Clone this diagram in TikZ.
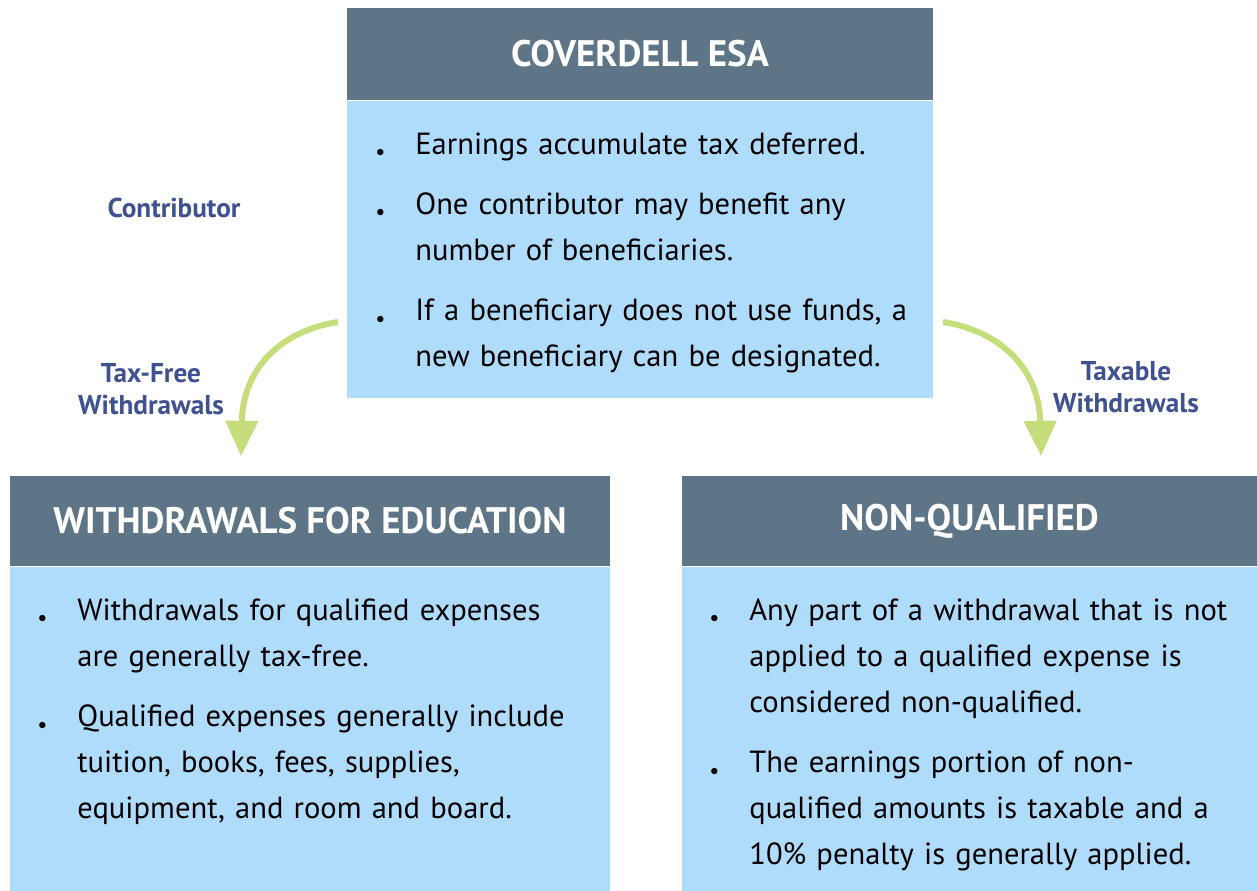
\documentclass[tikz,border=0pt]{standalone}
\usepackage{fontspec}
\setmainfont{PT Sans}
\usetikzlibrary{arrows.meta}

\definecolor{headgray}{HTML}{5E7487}
\definecolor{bodyblue}{HTML}{B0DCFC}
\definecolor{labelblue}{HTML}{3F5190}
\definecolor{arrowgreen}{HTML}{C6DD7C}

\newcommand{\pitem}[1]{\par\noindent\hangindent=0.78cm\hangafter=1\makebox[0.78cm][l]{\raisebox{-1.4pt}{\small$\bullet$}}\strut#1\par}

\begin{document}
\begin{tikzpicture}[x=0.02cm, y=-0.02cm, font=\fontsize{17.4}{26.2}\selectfont,
	head/.style={fill=headgray, text=white, font=\bfseries\fontsize{21}{24}\selectfont, inner sep=0},
	body/.style={fill=bodyblue, inner sep=0},
	list/.style={text width=11.5cm, inner sep=0, anchor=north west, execute at begin node={\setlength{\parskip}{8pt}}},
	lbl/.style={text=labelblue, font=\bfseries\fontsize{15.5}{18.2}\selectfont, align=center},
	flow/.style={draw=arrowgreen, line width=3.4pt, -{Triangle[length=20pt, width=18pt]}}]
	\useasboundingbox (0,0) rectangle (1257,890);
	% boxes
	\node[head, minimum width=11.72cm, minimum height=1.84cm] (esa) at (640,54) {COVERDELL ESA};
	\node[body, minimum width=11.72cm, minimum height=5.94cm, anchor=north] (esabody) at (esa.south) {};
	\node[head, minimum width=12cm, minimum height=1.8cm] (edu) at (310,521) {WITHDRAWALS FOR EDUCATION};
	\node[body, minimum width=12cm, minimum height=6.5cm, anchor=north] (edubody) at (edu.south) {};
	\node[head, minimum width=11.5cm, minimum height=1.8cm] (nonq) at (969.5,521) {NON-QUALIFIED};
	\node[body, minimum width=11.5cm, minimum height=6.5cm, anchor=north] (nonqbody) at (nonq.south) {};
	% lists
	\node[list] (esalist) at (376,94) {%
		\pitem{Earnings accumulate tax deferred.}
		\pitem{One contributor may benefit any\newline number of beneficiaries.}
		\pitem{If a beneficiary does not use funds, a\newline new beneficiary can be designated.}};
	\node[list] (edulist) at (38,560) {%
		\pitem{Withdrawals for qualified expenses\newline are generally tax-free.}
		\pitem{Qualified expenses generally include\newline tuition, books, fees, supplies,\newline equipment, and room and board.}};
	\node[list] (nonqlist) at (710,560) {%
		\pitem{Any part of a withdrawal that is not\newline applied to a qualified expense is\newline considered non-qualified.}
		\pitem{The earnings portion of non-\newline qualified amounts is taxable and a\newline 10\% penalty is generally applied.}};
	% labels and arrows
	\node[lbl] (contrib) at (174,208) {Contributor};
	\node[lbl] (taxfree) at (151,389) {Tax-Free\\Withdrawals};
	\node[lbl] (taxable) at (1126,387) {Taxable\\Withdrawals};
	\coordinate (tfstart) at (338,322);
	\coordinate (tfend) at (241,456);
	\coordinate (txstart) at (943,322);
	\coordinate (txend) at (1041,456);
	\draw[flow] (tfstart) .. controls (285,330) and (243,365) .. (tfend);
	\draw[flow] (txstart) .. controls (996,330) and (1039,365) .. (txend);
\end{tikzpicture}
\end{document}
